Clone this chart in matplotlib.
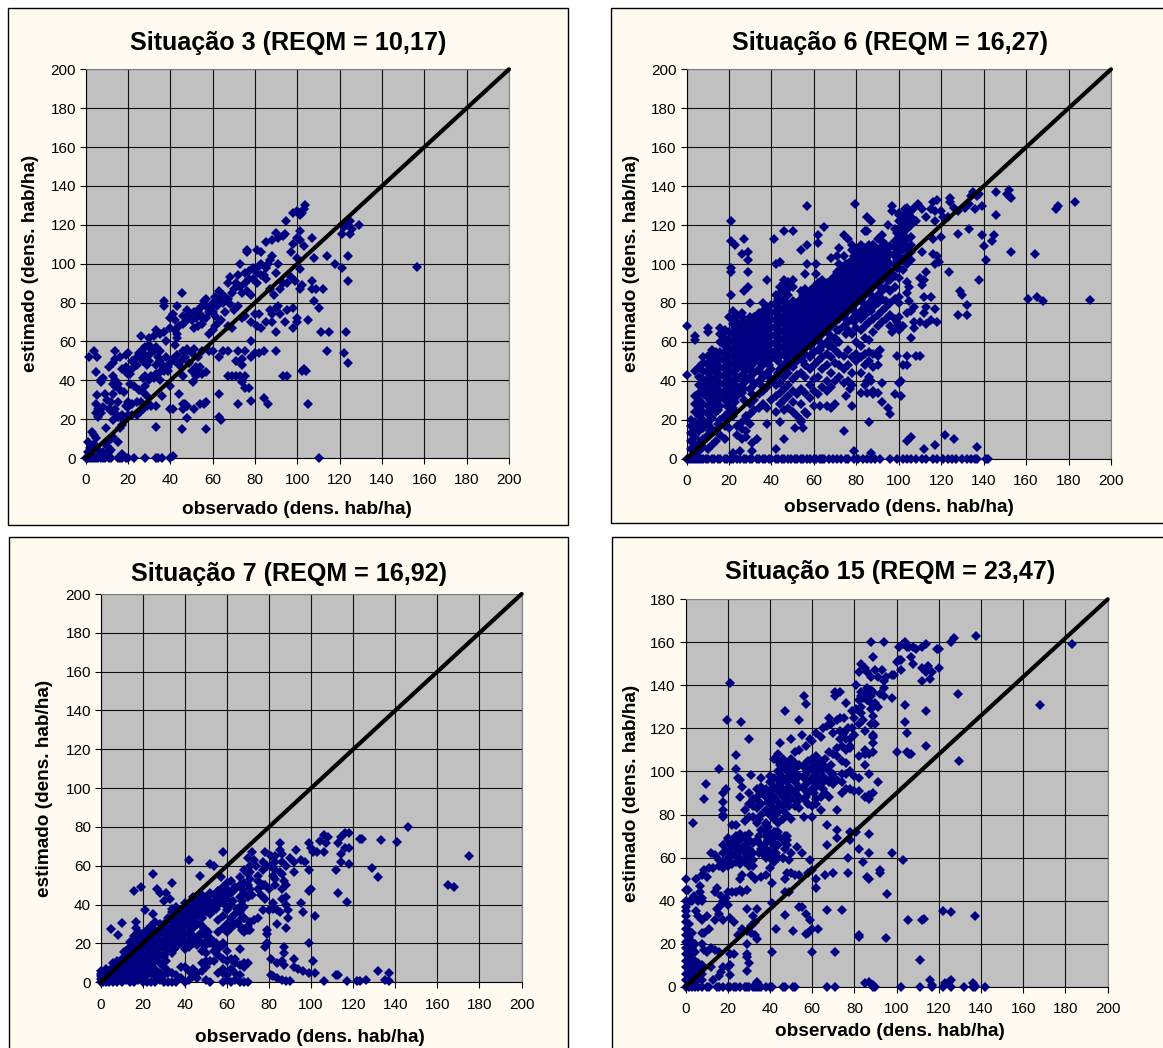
import matplotlib
matplotlib.use('Agg')
import matplotlib.pyplot as plt
from matplotlib.patches import Rectangle

plt.rcParams['font.family'] = ['Liberation Sans', 'DejaVu Sans']

W, H = 1163, 1048

ticks_200 = list(range(0, 201, 20))
ticks_180 = list(range(0, 181, 20))

# ---- Situacao 3 (obs, est)
sit3 = [
    (0,0),(0.5,0),(1,0),(2,0),(3,0),(4,0),(5,0),(6,0),(7,0),(8,0),(9,0),(11,0),(12,0),(15,0),(16,0),(17,0),(19,0),(20,0),(23,0),(28,0),
    (33,0),(34,0),(36,0),(40,0),(41,1),(110,0),
    (1,8),(1,3),(2,5),(3,2),(3,13.5),(4,12),(5,10.5),(4,7),(6,4),(7,2),(8,3),(10,6),(10,8),(11,3),(12,4),(12,10),(13,11),(15,8),(17,2),
    (16,15.5),(33,16),(45.5,15),(57,15),(9.5,15.5),
    (17,17),(18,19),(20,22),(22,22),(24,22),(26,24),(27,25),(29,27),(30,28),(31,27),(33,27),(13,19.5),(6,21),(7,23),(5,23),(6,25),(8,26),
    (12,24),(11,25),(14,23),(14,25),(15,21),(17,22),(19,27),(20,29),(20,26),(22,28),(24,29),(26,29),(5,28),(10,30),(15,29),(12,29),
    (41,25),(40,25),(46,25),(47,28),(46,28),(48,27),(48,20.5),(51,25),(54,28),(56,28),(57,29),(63,21),(64,19.5),(72,28),(78,29.5),(84,31),(86,28),(105,28),
    (5.5,32.5),(9,33),(13,33),(16,35),(18,34),(25,35),(27,34),(29,32),(36,32),(44,33),(63,33),(75,36),(77,36),(74,39),(50.5,39),(40,37),
    (28,37),(30,40),(32,41),(35,40),(31,42),(33,43),(35,44),(37,45),(39,45),(13,38),(14,40),(15,38),(14,37),(7,39),(7,40),(8,41),(21,38),(23,37),
    (27,41),(28,42),(46,42),(52,42),(54,44),(55,43),(57,44),(50,45),(52,46),(5,44),(13,42),(19,44),(20,43),(71,42),(69,42),(67,42),(73,42),(75,42),
    (93,42),(95,42),(102,45),(104,45),(103,46),
    (1.5,52),(4,55),(5.5,52),(11,47),(13,49),(14,51),(14,55),(16,52),(17,46),(19,53),(20,54),(19,47),(20,46),(22,50),(24,52),(25,54),(27,50),(27,56),
    (29,48),(30,53),(31,56),(33,48),(35,50),(37,47),(38,52),(40,49),(42,50),(43,53),(44,48),(46,55),(47,52),(48,56),(49,49),(50,54),(51,56),(52,47),
    (53,52),(54,47),(55,55),(58,55),(60,55),(63,52),(65,55),(67,55),(71,50),(72,55),(74,48),(74,51),(75,55),(78,52),(80,54),(82,54),(84,55),(90,55),
    (114,55),(122,54),(124,49),
    (26,63),(30,62),(32,63),(33,66),(35,64),(37,65),(38,60),(28,57),(30,58),(33,57),(35,55),(42,58),(43,62),(43,64),(40,67),(42,66),(44,68),(46,69),
    (47,70),(51,67),(53,68),(55,69),(58,64),(60,66),(61,68),(63,70),(67,68),(69,67),(78,60),(81,68),(83,67),(85,70),(88,70),(90,65),(98,67),(111,65),(115,65),(123,65),
    (40,72),(41,74),(42,71),(43,78),(37,81),(37,78),(45.5,85),(46,73),(48,72),(48,76),(50,71),(52,72),(54,74),(55,78),(56,81),(57,82),(58,75),(60,80),
    (61,83),(62,78),(63,86),(65,84),(66,75),(68,79),(70,76),(72,78),(74,72),(75,73),(78,70),(80,74),(82,74),(87,76),(88,74),(89,84),(90,77),(91,78),
    (92,74),(94,70),(95,76),(98,77),(100,72),(100,70),(105,71),(108,81),(110,77),(60,75),(64,71),(57,72),
    (67,90),(68,93),(70,87),(72,94),(73,100),(74,85),(75,90),(76,86),(77,96),(78,84),(79,92),(80,97),(81,95),(82,99),(83,100),(84,94),(85,98),(87,102),
    (88,104),(87,87),(90,95),(91,100),(92,87),(93,90),(95,90),(97,93),(99,91),(101,87),(102,89),(101,97),(100,103),(107,91),(107,87),(109,87),(108,103),
    (112,87),(114,104),(118,100),(121,98),(124,91),(124,104),(156.5,98.5),(97,106),
    (76,106),(76,107),(81,107),(83,106),(85,111),(88,112),(90,116),(91,113),(93,114),(94,115),(94.5,122),(98,110),(100,113),(101,117),(101,112),(103,109),
    (107,113),(98,126),(100,127),(101,125),(102,126),(103,128),(103.5,130),(121,115),(122,119),(123,121),(124,120),(125,122),(126,118),(125,115),(129,120),
    (49,74),(51,75),(53,76),(55,72),(57,78),(59,77),(61,73),(63,82),(65,80),(67,82),(69,85),(71,90),(73,88),(75,95),(77,92),(79,98),(81,90),(83,94),(85,92),(86,100),
    (47,54),(45,50),(41,51),(39,47),(36,48),(34,52),(32,55),(30,50),(28,53),(26,52),(24,48),(22,46),(21,43),
]

# ---- Situacao 6, scattered points
sit6 = [
    (0,68),(0,43),(21,122),(21,112),(23,110),(27,113),(29,106),(29,102),(26,105),(21,98),(21,96),(29,96),(21,84),(27,86),(29,88),(30,80),(36,80),(38,92),
    (41,113),(42,100),(44,101),(46,117),(50,117),(57,130),(79.5,131),(65,119),(62,115),(62,111),(57,110),(54,107),(57,100),(61,100),(56,95),(61,95),
    (97,130),(97,127),(85,124),(87,122),(84,117),(85,117),(74,115),(76,113),(78,110),(72,108),(71,104),(68,103),(95,120),(92,115),(90,113),(88,110),
    (100,125),(103,128),(105,125),(107,129),(108,122),(109,131),(111,128),(113,124),(115,128),(117,127),(116,132),(118,133),(117,122),(120,127),(121,124),
    (123,124),(124,134),(124,132),(126,129),(128,127),(131,129),(133,131),(134,135),(135,137),(136,128),(137,135),(138,136),(139,130),(146,137),(146,125),
    (151,136),(152,138),(152,135),(153,134),(174,128),(175,130),(183,132),(128,115.5),(133,118),(139,115),(144,112),(145,115),(140,109),(141,102),(153,106),
    (164,105),(161,82),(165,83),(168,81),(190,81.5),(138,92),(123.5,96),(129,86),(130,84),(132,79),(128,74),(132,74),(113,96),(111,89),(112,92),(110,93),
    (120,114),(116,113),(111,106),(116,105),(118,104),(117,100),(119,101),(100,83),(104,85),(105,88),(104,91),(105,81),(107,78),(106,76),(112,83),(115,83),
    (117,77),(113,78),(112,75),(104,75),(107,70),(110,70),(113,69),(115,71),(118,70),(107,67),(106,62),(99,70),(100,68),(97,65),(96,68),(91,56),(90,53),
    (99,53),(104,53),(102,48),(104,48),(110,53),(108,53),(101,40),(100,39),(92,39),(87,40),(85,40),(98,33),(101,32),(85,34),(82,34),(90,34),(88,33),(92,29),
    (95,26),(96,23),(86,19),(104,9),(106,11),(112,5),(117,7),(122,12),(126,10),(137,6),(79,4),(87,3),(74,14),(78,27),(77,36),(75,32),(70,28),(68,26),(66,27),
    (63,27),(60,27),(57,23),(54,20),(55,16),(51,16),(44,19),(46,10),(42,5),(38,18),(33,10),(31,8),(31,4),(25,4),(22,3),
]
sit6_zero = [0,1,2,3,4,5,6,7,8,9,10,12,13,15,16,18,19,21,22,24,25,27,28,30,31,33,34,36,37,39,40,42,43,45,46,48,49,51,52,54,55,57,58,60,61,63,64,65,67,69,
             71,73,75,76,79,81,83,85,87,89,91,96,99,102,104,106,108,111,113,116,118,121,123,125,127,130,132,134,136,137,141,142]

# dense cloud of Situacao 6, one list of est per obs column
sit6_cols = [2,4,6,8,10,12,14,16,18,20,22,24,26,28,30,32,34,36,38,40,42,44,46,48,50,52,54,56,58,60,62,64,66,68,70,72,74,76,78,80,82,84,86,88,90,92,94,96,98,100,102,104,106,
             11,15,19,23,27,31,35,39,43,47,51,55,59,63,67,71,75,79,83,87,91,95,99,103]
sit6_col_est = [
    [5,9,13,17,20],[3,7,11,15,19,24,28,32,45,61,63],[4,8,14,18,22,26,30,34,38,42,47],[6,10,16,20,24,28,33,37,41,45,49,52],
    [5,12,18,23,27,31,35,39,44,48,53,65,67],[7,15,21,26,29,33,37,41,46,50,54,56],[9,14,24,28,32,36,40,44,48,52,55],
    [12,20,27,31,35,39,43,47,51,55,60,64,67],[10,17,22,30,34,38,42,46,50,54,58,62,66],[16,24,29,33,37,41,45,49,53,57,61,65,73],
    [22,26,31,35,39,44,48,52,56,60,64,69,76,72],[12,17,32,36,41,46,50,54,58,62,66,70,74],[10,15,19,34,38,43,48,52,56,60,64,68,75,73],
    [11,14,20,22,40,45,49,53,57,61,65,69],[18,23,28,36,42,47,51,55,59,63,67,71,73],[25,30,38,44,49,53,57,61,65,69,73],
    [26,33,40,46,51,55,59,63,67,71,75],[28,35,42,48,52,56,60,64,68,72,76],[26,37,44,50,54,58,62,66,70,74,78],[30,40,46,51,55,59,63,67,71,75,79],
    [24,32,38,42,52,56,60,64,68,72,76,80,84],[28,34,39,46,53,57,61,65,69,73,77,81,85,88],[25,30,36,42,48,54,58,62,66,70,74,78,82,86,90,92],
    [26,32,38,44,50,55,59,63,67,71,75,79,87,84,91],[24,29,35,41,47,53,57,61,65,69,73,77,81,88,92],[22,33,43,50,56,60,64,68,72,76,80],
    [19,28,36,44,52,58,62,66,70,74,78,82,86],[24,34,42,48,54,60,64,68,72,76,80,84,87],[31,38,46,52,58,62,66,70,74,78,82,86],
    [35,41,48,55,60,64,68,72,76,80,84,88],[33,42,50,56,62,66,70,74,78,82,86,90],[37,46,52,58,64,68,72,76,80,84,88,92],[35,40,48,54,60,66,70,74,78,82,86,90],
    [37,44,52,58,62,68,72,76,80,84,88,92],[40,49,56,62,70,74,78,82,86,90,94],[42,48,54,60,66,72,76,80,84,88,92,96,100],[39,46,53,68,74,78,82,86,90,94,98,104],
    [40,48,56,66,70,76,80,84,88,92,96,100],[38,44,52,64,72,78,82,86,90,94,98,102,107],[50,54,60,67,74,80,84,88,92,96,100,104,107],
    [44,52,58,66,72,76,82,86,90,94,98,102,106,110],[38,48,54,62,68,74,78,84,88,92,96,100,104,108],[42,50,55,61,70,76,80,86,90,94,98,102,106,110],
    [35,47,54,65,72,78,82,88,92,96,100,104,108,110],[48,55,68,74,80,84,90,94,98,102,106],[70,76,82,86,92,96,100,104,108,112],[72,78,81,88,94,98,102,106,110],
    [74,80,86,92,96,100,105,109],[67,72,82,88,94,100,104,108,112,118],[66,73,80,93,98,104,110,114,118,122,126],[68,97,102,107,112,116,120,124],
    [100,104,108,113,118,122,126,129],[102,106,110,114,120,124,127],
    [14,20,25,30,34,38,42,46,50],[18,25,30,34,38,42,46,50,54],[20,27,32,36,40,44,48,52,56,60],[24,29,34,38,43,47,51,55,59,63,67],[30,36,41,46,50,54,58,62,66,70],
    [33,40,45,49,53,57,61,65,69],[38,44,49,53,57,61,65,69,73],[42,48,52,56,60,64,68,72,76],[44,50,54,58,62,66,70,74,78,82],[46,52,56,60,64,68,72,76,80,85,89],
    [50,54,58,62,66,70,74,78],[50,56,60,64,68,72,76,80,84],[54,60,64,68,72,76,80,84],[56,60,64,68,72,76,80,84,88],[58,64,68,72,76,80,84,88],
    [60,66,72,76,80,84,88,92,96],[64,72,76,80,84,88,92,96,100],[70,76,80,84,88,92,96,100,104],[74,80,84,88,92,96,100,104,108],[76,84,88,92,96,100,104,108],
    [88,92,96,100,104,108],[92,96,100,104,108],[98,102,106,110,116],[110,114,118,122],
]

# ---- Situacao 7
sit7 = [
    (146,80),(175,65),(165,50),(168,49),(141,72.5),(133,73.5),(123,74),(124,74),(129,59),(132,54),(118,77),(116,77),(114,75),(113,72),(114,66),(116,69),
    (118,69),(118,61),(114,62),(112,58),(113,46),(117,41.5),(108,75),(106,76),(104,73),(107,72),(106,67),(103,67),(101,67),(99,72),(100,69),(99,58),(97,62),
    (95,63),(93,68),(90,64),(92,62),(92,57),(100,48),(99,47),(95,41),(96,36),(102,34),(99,20),(89,37),(86,43),(88,44),(88,40),(89,33),(88,28),(87,18),(87,15),
    (84,30),(92,12),(101,11),(87,9),(86,11),(84,10),(81,12),(92,8),(94,7),(96,6),(99,5),(102,5),(106,0.5),(112,4),(113,4),(117,0.5),(122,0.5),(123,0.5),(126,1),
    (132,6),(135,1),(137,5),(137,0.5),(88,0.5),(90,0.5),(86,1),(84,2),(82,3),(81,4),(85,72),(85,68),(78,67),(81,65),(83,65),(86,62),(88,60),(72,67),(70,64),
    (73,63),(68,58),(71,57),(74,60),(75,55),(81,60),(79,60),(82,55),(85,57),(87,52),(88,50),(78,50),(80,48),(76,45),(72,45),(83,50),(78,43),(80,37),(82,38),
    (84,37),(82,41),(85,36),(77,37),(79,27),(79,25),(79,20),(78,18),(75,33),(73,32),(71,31),(67,40),(68,33),(66,32),(69,28),(71,27),(65,38),(66,54),(62,52),
    (64,48),(60,47),(58,49),(56,47),(57,54),(52,61),(54,60),(58,67),(47,55),(42,63),(34,51),(25,56),(27,48),(28,46),(30,42),(31,46),(33,43),(19,49),(16,47),
    (21,37),(25,35),(30,30),(34,38),(37,34),(40,37),(5,27.5),(10,30.5),(8.5,24.5),(17,31),(17,28),(14,21),(11,15.5),(16,24),(19,24),
]
sit7_cols = [0,1,2.5,4,6,8,10,12,14,16,18,20,22,24,26,28,30,32,34,36,38,40,42,44,46,48,50,52,54,56,58,60,62,64,66,68,70,
             15,19,23,27,31,35,39,43,47,51,55,59,63,67,71,75,77,83,86]
sit7_col_est = [
    [0,1.5,3,4.5,6],[0,2,4,5.5],[0,1,3,5,7],[0,2,4,6],[0,3,5,8,10],[0,2,4,7,9,11],[0,1,3,6,9,12],[1,4,7,10,13,16],[0,3,6,9,12,15,18],
    [0,2,5,8,11,14,17,20,22],[1,4,7,10,13,16,19,23,26],[0,3,6,10,14,18,21,25],[0,4,8,12,15,19,23,27],[0,5,9,13,17,21,25,29],
    [0,3,7,11,15,19,23,27,31],[1,5,10,14,18,22,26,30],[0,4,8,13,17,21,25,29],[0,6,5,16,20,24,28,33],[0,5,15,19,22,26,31,36],[0,4,18,22,26,30,33,39],
    [2,8,20,24,28,32,36],[0,8,17,21,25,29,33,37,41],[1,6,18,22,26,31,35,39],[3,7,20,24,28,32,36,40,44],[2,5,19,23,30,34,38,42],
    [6,10,16,20,25,29,33,37,41,45],[1,8,11,15,19,24,27,36,40,44],[0,11,20,23,35,38,42,46],[11,16,19,21,37,41,45],[5,14,17,26,32,40,44,47],
    [0,5,7,12,19,20,28,34,42,46],[1,4,11,16,26,30,37,43,48,51],[0,7,12,28,33,40,46],[1,5,12,10,30,35,49],[0,4,9,17,29,36,44,50],[0,8,10,26,33,39,46,51],
    [0,10,27,29,44,50,56],
    [1,4,7,10,13,16,19],[3,8,12,17,21,25],[6,10,16,21,25],[5,13,17,21,25],[11,15,19,23,27],[17,21,25,29,33],[22,26,30,34,38],[20,24,28,33,37,41],
    [21,25,30,35,39,43],[22,26,38,42],[20,38,42,46],[28,40,44],[30,42,47],[27,42,48],[48,53,60],[48,52],[50,58,62],[53,58,62],[48,56,66],
]

# ---- Situacao 15
sit15 = [
    (10,0),(11,0),(15,0),(16,0),(18,0),(20,0),(21,0),(23,0),(24,0),(26,0),(28,0),(29,0),(30,0),(32,0),(33,0),(34,0),(35,0),(36,0),(38,0),(40,0),(41,0),
    (46,0),(47,0),(51,0),(52,0),(67,0),(71,0),(89,0),(90,0),(102,0),(111,0),(117,0),(122,0),(126,0),(132,0),(136,0),(137,0),(142,0),
    (34,2),(85,1.5),(87,2),(89,1),(116,3),(117,1),(123,1.5),(125,2),(126,3),(136,1.5),(137,0.5),
    (8,20),(9,17),(10,16),(12,18),(14,17),(12,9),(13,3),(16,5),(17,7),(18,9),(20,9),(21,10),(21,5.5),(21,15),(23,15),(29,7.5),(30,11),(29,14),(29,15),(29,20),(16,16),
    (25,24),(27,27),(29,26),(31,25),(33,24),(34,22),(31,28),(33,30),(32,33),(29,36),(34,36),(41,16),(47,33.5),(43,27),(51,26),(54,37),(55,37),(57,34),(59,31),
    (58,25),(57,24.5),(60,27),(63,27),(60,16),(71,16),(67,35.5),(74,35.5),(82,24),(82,23),(95,22.5),(111,12.5),(105.5,31),(112,31),(113,31.5),(122,35),(126,34.5),
    (137,33),(95.5,43),(41,39),(47,44),(49,44),
    (1,45),(2,40),(3,40),(4,42),(6,40),(8,40),(5,50),(7,47),(8,52),(9,54),(10,51),(11,55),(13,55),(7,44),(8,41),(14,44),(15,46),(17,42),(18,40),(19,41),(20,44),
    (20,38),(15,36),(16,34),(17,38),(14,31),(18,31),(21,32),(23,30),(5,35),(6,33),(8,31),(10,33),(11,27),(8,25),(9,25),(22,44),(24,44),(26,45),(27,44),(29,45),
    (26,50),(27,52),(31,52),(33,50),(36,51),(38,52),(40,55),(41,48),(47,50),(48,53),(50,53),(52,52),(54,52),(58,53),(60,54),(62,50),(62,46),(66,52),(70,53),(77,53),
    (84,58),(86,51),(87,50),(92,54),(92,53),(98,62),(103,59),(77,60),(82,64),(87,62),(78,68),(78,72),(81,72),(87,71),(72,73),(72,69),(67,66),(67,75),(59,59),(55,62),
    (53,65),(50,62),(49,59),(44,60),(46,60),(43,62),(38,60),(37,61),
    (3.5,76),(9.5,94),(9,87),(18,90),(19,92),(18,86),(18,82),(18,80),(18,79),(16,101),(24,107.5),(24,101),(25,97),(26,96),(27,93),(31,98.5),(30,115),(19.5,124),
    (26.5,123),(21,141),(47,128),(45,113),(50,115),(55,117),(54,124),(56,135),(57,131.5),(71,135),(71,137),(73,137),(76,132),
    (57,112),(59,115),(60,114),(62,118),(64,116),(65,120),(67,121),(68,125),(69,122),(70,118),(72,124),(73,125),(74,112),(76,115),(77,120),(78,111),(78,115),(80,117),
    (80,125),(81,129),(82,122),(83,127),(84,124),(85,119),(88,122),(89,126),(89,117),(88,129),(90,122),
    (82,133),(83,135),(84,134),(85,136),(86,133),(87,138),(88,135),(89,137),(90,132),(91,130),(92,136),(94,139),(94,135),(81,140),(82,146),(83,150),(85,148),(86,146),
    (88,144),(89,153),(90,147),(91,144),(93,147),(94,142),(95,144),(98,145),(99,145),(98,134),(102,147),(100,151),(101,152),(102,152),(88,160),(94,160),(101,158),
    (103,159),(104,160),(105,158),(106,158),(108,158),(109,157),(112,158),(114,159),(119,157),(120,157),(126,160),(127,162),(137.5,163),(183,159),(107,153),(108,150),
    (112,148),(112,142),(114,146),(115,149),(117,146),(116,143),(120,148),(104,131),(104,123),(105,118),(114,128),(114,112),(129,136),(129.5,105),(168,131),(100,109),
    (105,109),(106,108),(107,108),
]
sit15_cols = [0,1.5,3,4.5,6,8,12,14,16,18,20,22,24,26,28,30,32,34,36,38,40,42,44,46,48,50,52,54,56,58,60,62,64,66,68,70,72,74,76,78,80,82,85,87,89,91,
              41,45,49,53,57,61,63,65,69,25,21,29,35,39,43,47,83,86,88,73,75,79]
sit15_col_est = [
    [0,3,6,9,12,15,18,21,24,27,30,33,35,37,40,45,50],[0,2,5,8,11,14,17,20,23,26,29],[0,3,6,9,12,15,18,21,25],[0,2,5,8,12,16,20],[0,4,8,11],[0,3,6,10],
    [62],[61],[59,56],[55,58,62,66],[56,60,64,68,69],[57,61,65,68,75],[58,62,66,70,75],[57,60,64,68,71,88],[58,62,66,70,82,77],[56,60,64,68,71,79,85,90],
    [56,59,62,67,79,84,87],[68,76,83,88,92],[66,64,73,80,85,90,93,97],[64,67,70,72,76,75,82,88,92],[60,63,68,71,80,85,90,95,98],[58,62,66,69,72,78,83,88,93,97,106],
    [66,70,72,76,81,86,91,96,100,105,108],[60,68,78,82,88,92,97,102,106],[66,68,70,80,86,90,95,100,104],[78,87,92,97,101,106],[84,90,95,99,104,109],[83,88,93,98,103,110],
    [79,87,92,97,102],[85,90,95,100,105],[79,84,92,97,102,106],[85,87,93,98,103,107],[82,88,94,100,105],[90,96,102,106],[88,95,100,109],[94,99,108],[82,96,107,111],
    [90,95,99,105],[92,99,110,104],[92,100,112],[91,98,117],[91,97,107],[103,110,108,88],[87,89,99,108],[90,109,113,116],[95],
    [82,87,92,96],[84,90,94,99,103],[84,88,93,98,103],[86,92,97,102],[88,94,99,104],[90,95,100,105],[96,101,104],[92,98,103],[97,103],[60,64,68],[58,62,66],[60,64],
    [62,70,78,86],[62,68,74,86],[60,66,72,80],[64,70,85],[130,137],[137,139,135],[138,132],[115,119],[118,125],[120,128],
]

# pixel boxes: frame (l, t, r, b), axes (l, t, r, b)
panels = [
    ('Situação 3 (REQM = 10,17)', sit3, [], [], [], (8,8,568,525), (85.8,69.3,509,458), 200, ticks_200, (288,43), (297,509), (31,263)),
    ('Situação 6 (REQM = 16,27)', sit6, sit6_cols, sit6_col_est, sit6_zero, (611,7.5,1175,523), (686.5,69.3,1111,458.7), 200, ticks_200, (890,43), (899,507), (632,263)),
    ('Situação 7 (REQM = 16,92)', sit7, sit7_cols, sit7_col_est, [], (9,537,568,1060), (100.6,594,521.6,982.3), 200, ticks_200, (289,574), (310,1038), (45,788)),
    ('Situação 15 (REQM = 23,47)', sit15, sit15_cols, sit15_col_est, [], (612,537,1175,1060), (685.5,599.3,1107.7,986.7), 180, ticks_180, (890,572), (890,1031), (631,793)),
]

fig = plt.figure(figsize=(W / 100, H / 100), dpi=100, facecolor='white')

for title, pts, cols, col_est, zero_x, frame, box, ymax, yticks, t_xy, x_xy, y_xy in panels:
    l, t, r, b = frame
    fig.patches.append(Rectangle((l / W, 1 - b / H), (r - l) / W, (b - t) / H, transform=fig.transFigure,
                                 facecolor='#FFFBF0', edgecolor='black', linewidth=1.0, zorder=-1))

    l, t, r, b = box
    ax = fig.add_axes([l / W, 1 - b / H, (r - l) / W, (b - t) / H], facecolor='#C0C0C0')
    ax.set_xlim(0, 200)
    ax.set_ylim(0, ymax)
    ax.set_xticks(ticks_200)
    ax.set_yticks(yticks)
    ax.tick_params(length=4, width=0.8, labelsize=11, colors='black')
    ax.tick_params(axis='x', pad=7)
    ax.tick_params(axis='y', pad=3)
    ax.grid(True, color='#101010', linewidth=0.8)
    ax.set_axisbelow(True)
    for side in ('top', 'right'):
        ax.spines[side].set_color('#808080')
    for side in ('left', 'bottom'):
        ax.spines[side].set_color('black')
        ax.spines[side].set_linewidth(0.8)

    obs = [p[0] for p in pts]
    est = [p[1] for p in pts]
    for x, ys in zip(cols, col_est):
        obs += [x] * len(ys)
        est += ys
    obs += zero_x
    est += [0] * len(zero_x)
    ax.plot(obs, est, linestyle='none', marker='D', markersize=4.9, color='#000080', markeredgewidth=0, clip_on=False, zorder=3)

    # reference line runs corner to corner of the axes
    ax.plot([0, 200], [0, ymax], color='black', linewidth=3, solid_capstyle='round', clip_on=False, zorder=4)

    fig.text(t_xy[0] / W, 1 - t_xy[1] / H, title, ha='center', va='center', fontsize=18.1, fontweight='bold')
    fig.text(x_xy[0] / W, 1 - x_xy[1] / H, 'observado (dens. hab/ha)', ha='center', va='center', fontsize=13.7, fontweight='bold')
    fig.text(y_xy[0] / W, 1 - y_xy[1] / H, 'estimado (dens. hab/ha)', ha='center', va='center', rotation=90, fontsize=13.7, fontweight='bold')

fig.savefig('out.png', dpi=100)
plt.close()
